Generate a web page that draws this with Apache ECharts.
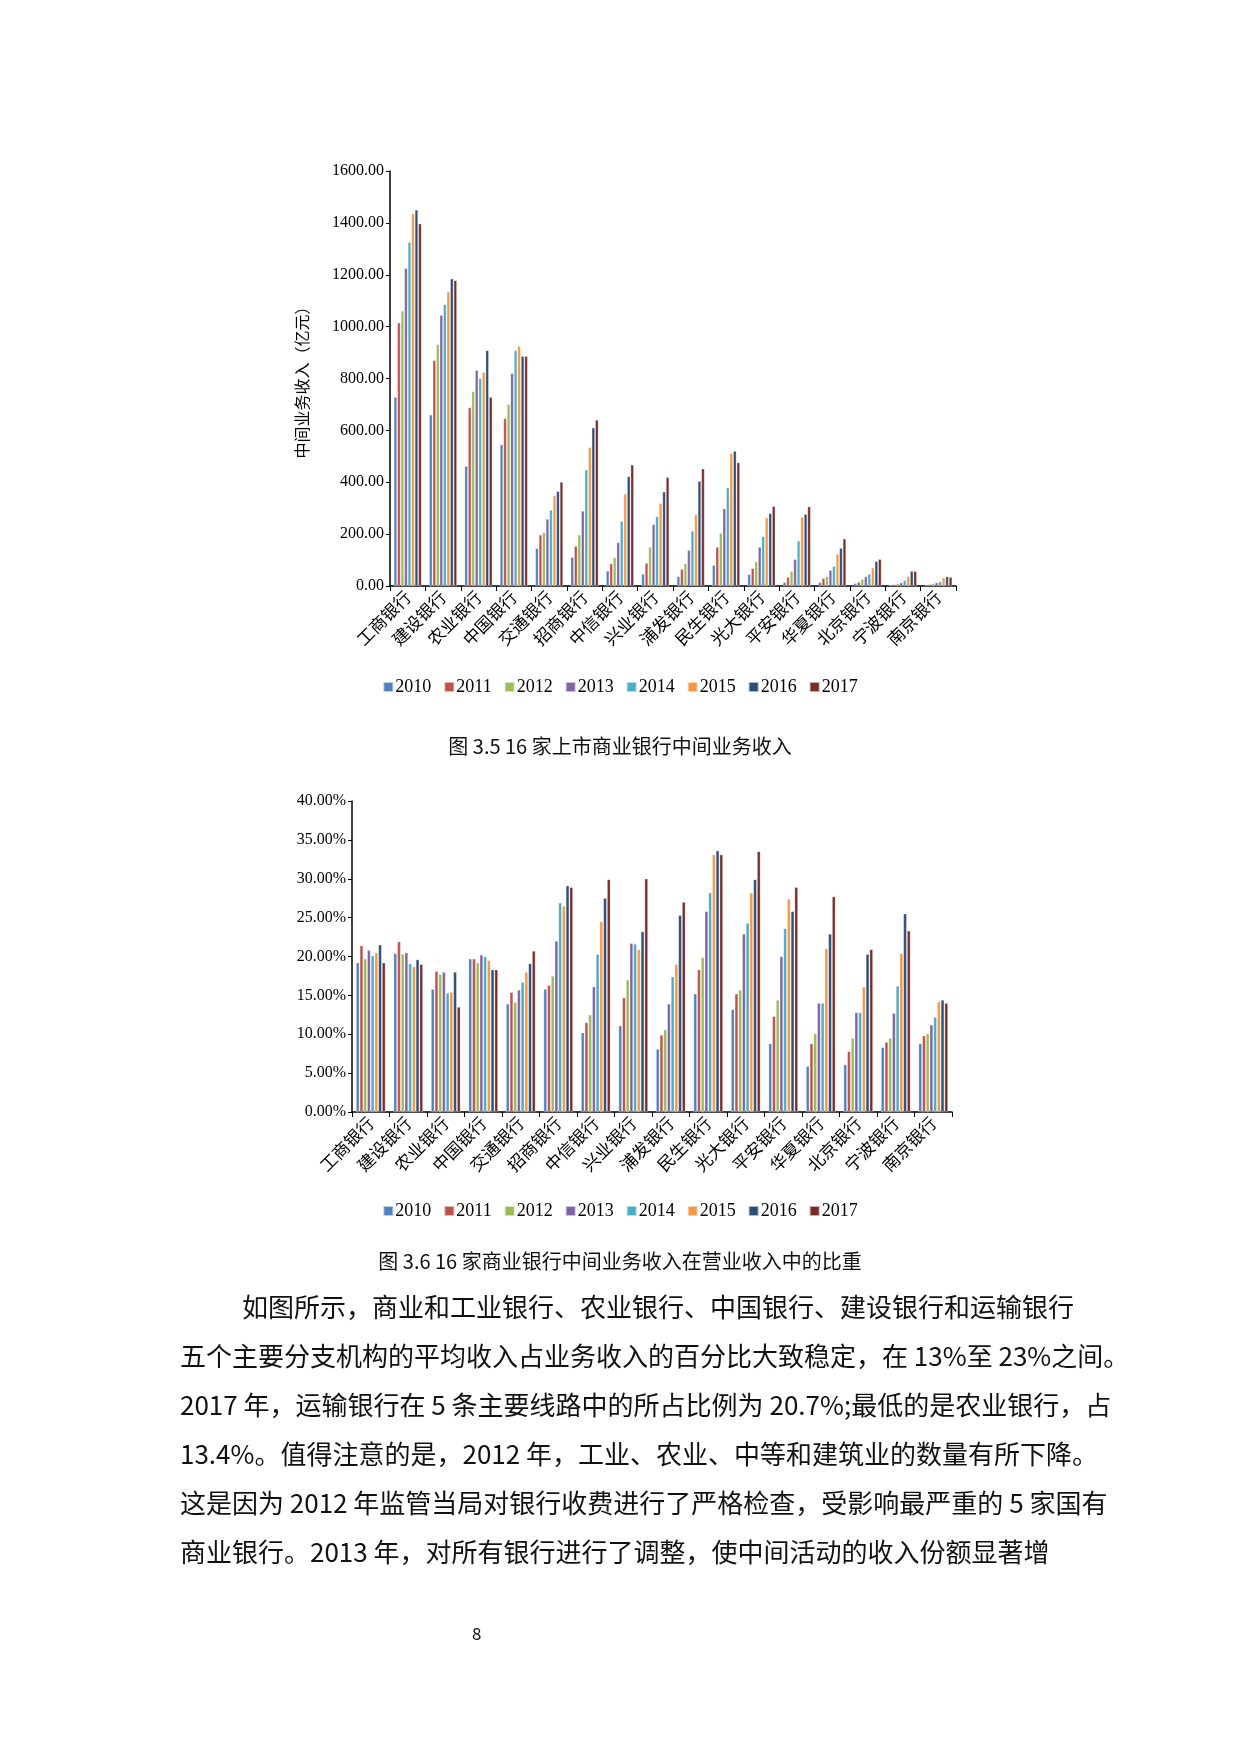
<!DOCTYPE html>
<html>
<head>
<meta charset="utf-8">
<script src="https://cdn.jsdelivr.net/npm/echarts@6/dist/echarts.min.js"></script>
<style>
  body { margin: 0; background: #fff; }
  #chart-container { position: absolute; left: 0; top: 0; width: 1240px; height: 1754px; }
  .txt { position: absolute; font-family: "Noto Sans CJK SC", sans-serif; color: #111; white-space: nowrap; }
  .para { left: 180px; font-size: 26px; }
</style>
</head>
<body>
<div id="chart-container"></div>
<div class="txt" style="left:0;width:1240px;text-align:center;top:731px;font-size:20px;">图 3.5  16 家上市商业银行中间业务收入</div>
<div class="txt" style="left:0;width:1240px;text-align:center;top:1246px;font-size:20px;">图 3.6  16 家商业银行中间业务收入在营业收入中的比重</div>
<div class="txt para" style="top:1287px;left:242px;">如图所示，商业和工业银行、农业银行、中国银行、建设银行和运输银行</div>
<div class="txt para" style="top:1336px;">五个主要分支机构的平均收入占业务收入的百分比大致稳定，在 13%至 23%之间。</div>
<div class="txt para" style="top:1385px;">2017 年，运输银行在 5 条主要线路中的所占比例为 20.7%;最低的是农业银行，占</div>
<div class="txt para" style="top:1434px;">13.4%。值得注意的是，2012 年，工业、农业、中等和建筑业的数量有所下降。</div>
<div class="txt para" style="top:1483px;">这是因为 2012 年监管当局对银行收费进行了严格检查，受影响最严重的 5 家国有</div>
<div class="txt para" style="top:1532px;">商业银行。2013 年，对所有银行进行了调整，使中间活动的收入份额显著增</div>
<div class="txt" style="left:472px;top:1620px;font-size:17px;">8</div>
<script>
var dom = document.getElementById('chart-container');
var myChart = echarts.init(dom, null, { renderer: 'canvas' });

// 银行名称
const banks = ['工商银行', '建设银行', '农业银行', '中国银行', '交通银行', '招商银行', '中信银行', '兴业银行',
  '浦发银行', '民生银行', '光大银行', '平安银行', '华夏银行', '北京银行', '宁波银行', '南京银行'];
const years = ['2010', '2011', '2012', '2013', '2014', '2015', '2016', '2017'];
const colors = ['#4F81BD', '#C0504D', '#9BBB59', '#8064A2', '#4BACC6', '#F79646', '#2C4D75', '#772C2A'];

// 中间业务收入（亿元），每行一个银行，按年份
const income = [
  [728, 1015, 1060, 1225, 1325, 1435, 1450, 1397],
  [660, 870, 932, 1044, 1085, 1135, 1185, 1178],
  [462, 688, 750, 832, 800, 824, 908, 728],
  [545, 646, 700, 820, 908, 925, 886, 886],
  [145, 197, 206, 258, 293, 348, 365, 401],
  [111, 154, 197, 289, 448, 535, 610, 640],
  [58, 86, 110, 168, 250, 355, 422, 467],
  [46, 88, 150, 237, 268, 319, 363, 419],
  [37, 65, 86, 138, 212, 276, 404, 452],
  [80, 150, 204, 298, 379, 512, 520, 476],
  [45, 68, 94, 150, 191, 263, 280, 307],
  [14, 34, 57, 103, 174, 266, 277, 306],
  [14, 30, 37, 61, 76, 123, 146, 182],
  [10, 15, 26, 36, 46, 70, 95, 103],
  [5, 6, 9, 13, 22, 37, 57, 57],
  [5, 6, 9, 13, 17, 32, 36, 34]
];

// 中间业务收入占营业收入比重（%）
const ratio = [
  [19.2, 21.4, 19.7, 20.8, 20.1, 20.5, 21.5, 19.2],
  [20.4, 21.9, 20.3, 20.5, 19.1, 18.7, 19.6, 19.0],
  [15.8, 18.1, 17.7, 18.0, 15.3, 15.4, 18.0, 13.5],
  [19.7, 19.7, 19.2, 20.2, 20.0, 19.5, 18.3, 18.3],
  [13.9, 15.4, 14.1, 15.7, 16.7, 18.0, 19.1, 20.7],
  [15.8, 16.3, 17.5, 22.0, 26.9, 26.5, 29.1, 28.9],
  [10.2, 11.5, 12.5, 16.1, 20.3, 24.5, 27.5, 29.9],
  [11.1, 14.7, 17.0, 21.7, 21.6, 20.9, 23.2, 30.0],
  [8.1, 9.9, 10.6, 13.9, 17.4, 19.0, 25.3, 27.0],
  [15.2, 18.3, 19.9, 25.8, 28.2, 33.1, 33.6, 33.1],
  [13.2, 15.2, 15.7, 22.9, 24.3, 28.2, 29.9, 33.5],
  [8.8, 12.3, 14.4, 20.0, 23.6, 27.4, 25.8, 28.9],
  [5.9, 8.8, 10.1, 14.0, 14.0, 21.0, 22.9, 27.7],
  [6.1, 7.8, 9.5, 12.8, 12.8, 16.1, 20.3, 20.9],
  [8.3, 9.0, 9.5, 12.7, 16.2, 20.4, 25.5, 23.3],
  [8.8, 9.8, 10.1, 11.2, 12.2, 14.2, 14.4, 14.0]
];

const serif = '"Liberation Serif", "Noto Sans CJK SC", serif';

function xAxisCfg(gridIndex) {
  return {
    type: 'category', gridIndex: gridIndex, data: banks,
    axisLine: { lineStyle: { color: '#000', width: 1.5 } },
    axisTick: { show: true, length: 5, lineStyle: { color: '#000' } },
    axisLabel: { rotate: 45, color: '#000', fontSize: 17, fontFamily: '"Noto Sans CJK SC", sans-serif', margin: 8, interval: 0 }
  };
}

function yAxisCfg(gridIndex, max, interval, fmt) {
  return {
    type: 'value', gridIndex: gridIndex, min: 0, max: max, interval: interval,
    axisLine: { show: true, lineStyle: { color: '#000', width: 1.5 } },
    axisTick: { show: true, length: 4, lineStyle: { color: '#000' } },
    splitLine: { show: false },
    axisLabel: { color: '#000', fontSize: 16, fontFamily: serif, formatter: fmt, margin: 6 }
  };
}

const series = [];
years.forEach((y, j) => {
  series.push({
    name: y, type: 'bar', xAxisIndex: 0, yAxisIndex: 0,
    data: income.map(r => r[j]),
    barGap: '15%', barCategoryGap: '22%',
    itemStyle: { color: colors[j], borderColor: 'rgba(255,255,255,0.6)', borderWidth: 0.5 }
  });
  series.push({
    name: y, type: 'bar', xAxisIndex: 1, yAxisIndex: 1,
    data: ratio.map(r => r[j]),
    barGap: '15%', barCategoryGap: '22%',
    itemStyle: { color: colors[j], borderColor: 'rgba(255,255,255,0.6)', borderWidth: 0.5 }
  });
});

function legendCfg(top) {
  return {
    data: years, top: top, left: 'center',
    icon: 'rect', itemWidth: 10, itemHeight: 10, itemGap: 12,
    textStyle: { color: '#000', fontSize: 18, fontFamily: serif, padding: [0, 0, 0, -3] }
  };
}

var option = {
  animation: false,
  color: colors,
  legend: [legendCfg(673), legendCfg(1197)],
  grid: [
    { left: 390, top: 171, width: 566, height: 415 },
    { left: 352, top: 801, width: 600, height: 311 }
  ],
  xAxis: [xAxisCfg(0), xAxisCfg(1)],
  yAxis: [
    Object.assign(yAxisCfg(0, 1600, 200, v => v.toFixed(2)), {
      name: '中间业务收入（亿元）', nameLocation: 'middle', nameGap: 80,
      nameTextStyle: { color: '#000', fontSize: 16, fontFamily: '"Noto Sans CJK SC", sans-serif' }
    }),
    yAxisCfg(1, 40, 5, v => v.toFixed(2) + '%')
  ],
  series: series
};

myChart.setOption(option);
window.addEventListener('resize', myChart.resize);
</script>
</body>
</html>
